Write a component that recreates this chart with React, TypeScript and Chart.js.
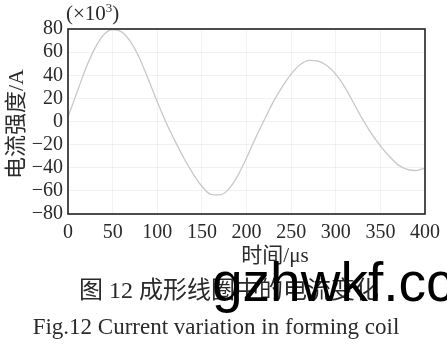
import React, { useEffect, useRef } from "react";
import { Chart, registerables } from "chart.js";

Chart.register(...registerables);

// time in µs
const timeUs = [0, 10, 20, 30, 40, 50, 60, 70, 80, 90, 100, 110, 120, 130, 140, 150, 160, 170, 180, 190, 200, 210, 220, 230, 240, 250, 260, 270, 280, 290, 300, 310, 320, 330, 340, 350, 360, 370, 380, 390, 400];
// current (×10^3 A)
const currentKA = [4, 25, 46, 63, 75, 79.5, 77.5, 69, 55, 36.5, 17, -1, -17, -32, -45, -56, -63, -63.5, -58.5, -47, -31.5, -14.5, 1.5, 17, 30, 41, 49, 52.8, 52.3, 48.5, 41, 30, 16, 2, -10.5, -21, -30, -37.5, -41.5, -42.5, -40];

const xTicks = [0, 50, 100, 150, 200, 250, 300, 350, 400];
const yTicks = [-80, -60, -40, -20, 0, 20, 40, 60, 80];

const yTitle = "电流强度/A";
const xTitle = "时间/μs";
const captionCn = "图 12  成形线圈中的电流变化";
const captionEn = "Fig.12  Current variation in forming coil";
const watermark = "gzhwkf.cc";

const SERIF = '"Liberation Serif", "DejaVu Serif", "Noto Sans CJK SC", serif';

const frame = {
  id: "frame",
  afterDraw(chart: any) {
    const { ctx, chartArea } = chart;
    ctx.save();
    ctx.strokeStyle = "#222";
    ctx.lineWidth = 1.6;
    ctx.strokeRect(chartArea.left, chartArea.top, chartArea.right - chartArea.left, chartArea.bottom - chartArea.top);
    ctx.restore();
  },
};

function Label(props: { x: number; y: number; size: number; text: React.ReactNode; rotate?: boolean; family?: string; color?: string; anchor?: string }) {
  const { x, y, size, text, rotate, family, color, anchor } = props;
  return (
    <div
      style={{
        position: "absolute",
        left: x,
        top: y,
        transform: (anchor === "left" ? "translate(0,-50%)" : "translate(-50%,-50%)") + (rotate ? " rotate(-90deg)" : ""),
        fontFamily: family || SERIF,
        fontSize: size,
        lineHeight: 1,
        whiteSpace: "nowrap",
        color: color || "#2a2a2a",
      }}
    >
      {text}
    </div>
  );
}

export default function App() {
  const ref = useRef<HTMLCanvasElement>(null);

  useEffect(() => {
    if (!ref.current) return;
    const chart = new Chart(ref.current, {
      type: "line",
      data: {
        datasets: [
          {
            data: timeUs.map((t, i) => ({ x: t, y: currentKA[i] })),
            borderColor: "#c8c8c8",
            borderWidth: 1.3,
            pointRadius: 0,
            cubicInterpolationMode: "monotone",
            fill: false,
          },
        ],
      },
      options: {
        animation: false,
        responsive: false,
        events: [],
        layout: { padding: { left: 0, right: 21, top: 29, bottom: 101 } },
        plugins: { legend: { display: false }, tooltip: { enabled: false } },
        scales: {
          x: {
            type: "linear",
            min: 0,
            max: 400,
            afterBuildTicks: (s: any) => {
              s.ticks = xTicks.map((v) => ({ value: v }));
            },
            afterFit: (s: any) => {
              s.height = 30;
            },
            border: { display: false },
            grid: { color: "rgba(0,0,0,0.05)", drawTicks: false },
            ticks: { padding: 7, autoSkip: false, color: "#2a2a2a", font: { family: SERIF, size: 20 }, maxRotation: 0 },
          },
          y: {
            min: -80,
            max: 80,
            afterBuildTicks: (s: any) => {
              s.ticks = yTicks.map((v) => ({ value: v }));
            },
            afterFit: (s: any) => {
              s.width = 68;
            },
            border: { display: false },
            grid: { color: "rgba(0,0,0,0.05)", drawTicks: false },
            ticks: {
              padding: 5,
              autoSkip: false,
              color: "#2a2a2a",
              font: { family: SERIF, size: 20 },
              callback: (v: any) => (v < 0 ? "\u2212" + Math.abs(v) : String(v)),
            },
          },
        },
      },
      plugins: [frame],
    });
    return () => chart.destroy();
  }, []);

  return (
    <div style={{ position: "absolute", left: 0, top: 0, width: 447, height: 345, background: "#fff", overflow: "hidden" }}>
      <canvas ref={ref} width={447} height={345} style={{ position: "absolute", left: 0, top: 0, width: 447, height: 345 }} />
      <Label x={66} y={12} size={21} anchor="left" text={<span>(×10<sup style={{ fontSize: 13 }}>3</sup>)</span>} />
      <Label x={16} y={124} size={22} rotate text={yTitle} />
      <Label x={275} y={255} size={21} text={xTitle} />
      <Label x={229} y={290} size={24} text={captionCn} />
      <Label x={216} y={326} size={23} text={captionEn} />
      <div
        style={{
          position: "absolute",
          left: 212,
          top: 255,
          fontFamily: '"Liberation Sans", Arial, sans-serif',
          fontSize: 55,
          lineHeight: 1,
          whiteSpace: "nowrap",
          color: "#000",
        }}
      >
        {watermark}
      </div>
    </div>
  );
}
